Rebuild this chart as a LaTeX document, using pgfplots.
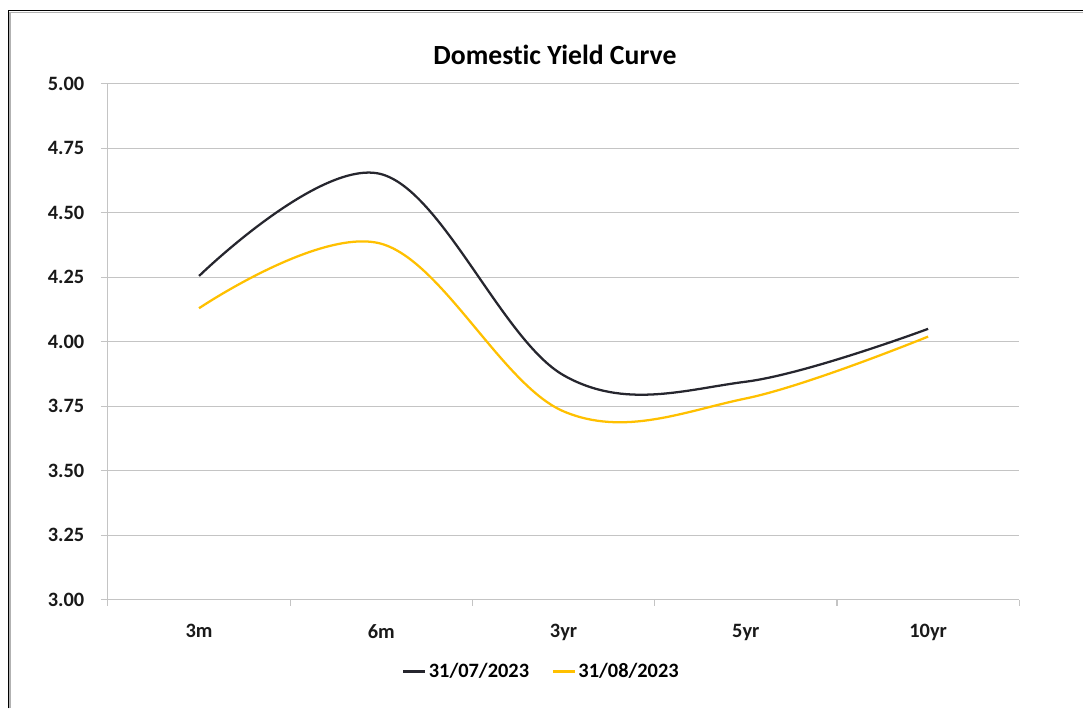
\documentclass[border=0pt]{standalone}
\usepackage{pgfplots}
\pgfplotsset{compat=1.18}
\usepackage{fontspec}
\setmainfont{Carlito}[Ligatures={NoCommon}]
\definecolor{serA}{HTML}{26262E}
\definecolor{serB}{HTML}{FFC000}
\definecolor{gridc}{HTML}{C4C4C4}
\begin{document}
\begin{tikzpicture}
% canvas: 1084x709 px, 1px = 0.75pt
\path (0pt,0pt) rectangle (813pt,531.75pt);
\draw[gray!60, line width=1.2pt] (7.5pt,0pt) -- (7.5pt,522.5pt) -- (813pt,522.5pt);
\draw[black, line width=1.1pt] (6.4pt,0pt) -- (6.4pt,524pt) -- (813pt,524pt);
\node[font=\fontsize{20.8}{22}\selectfont\bfseries, anchor=center] at (416.5pt,490.5pt) {Domestic Yield Curve};
\begin{axis}[
  at={(81pt,81.75pt)}, anchor=south west,
  scale only axis, width=684pt, height=387pt,
  xmin=0.5, xmax=5.5, ymin=3, ymax=5,
  axis x line*=bottom, axis y line*=left,
  axis line style={gridc, line width=0.8pt},
  xtick={1,2,3,4,5},
  xticklabels={3m,6m,3yr,5yr,10yr},
  minor xtick={0.5,1.5,2.5,3.5,4.5,5.5},
  ytick={3,3.25,3.5,3.75,4,4.25,4.5,4.75,5},
  ymajorgrids,
  grid style={gridc, line width=0.8pt},
  tick align=outside,
  major tick length=5.25pt,
  minor tick length=4.5pt,
  every tick/.style={gridc, line width=0.8pt},
  x tick style={draw=none},
  minor x tick style={draw=gridc, line width=0.8pt},
  /pgf/number format/assume math mode=true,
  yticklabel={\pgfmathprintnumber[fixed, fixed zerofill, precision=2]{\tick}},
  ticklabel style={font=\fontsize{15.3}{17}\selectfont\bfseries, text=black!90},
  xticklabel style={yshift=-10pt},
  yticklabel style={xshift=-9pt},
  legend style={at={(0.476,-0.1395)}, anchor=center, draw=none, fill=none,
    legend columns=2, font=\fontsize{15.3}{17}\selectfont\bfseries,
    /tikz/every even column/.append style={column sep=15pt}},
  legend image code/.code={\draw[#1, line width=1.6pt] (0pt,0pt) -- (16.5pt,0pt);},
  legend cell align=left,
]
\addplot[serA, line width=1.7pt, smooth, tension=0.6] coordinates {
  (1,4.255) (2,4.65) (3,3.87) (4,3.845) (5,4.05)};
\addlegendentry{31/07/2023}
\addplot[serB, line width=1.7pt, smooth, tension=0.6] coordinates {
  (1,4.13) (2,4.38) (3,3.73) (4,3.78) (5,4.02)};
\addlegendentry{31/08/2023}
\end{axis}
\end{tikzpicture}
\end{document}
